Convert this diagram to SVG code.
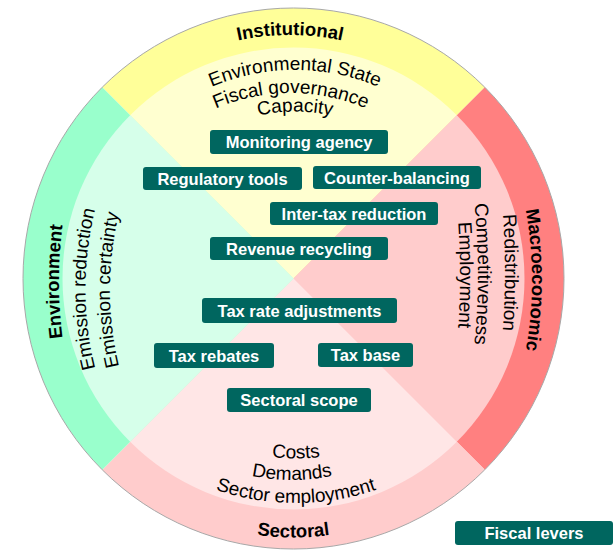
<svg xmlns="http://www.w3.org/2000/svg" width="614" height="554" viewBox="0 0 614 554">
<style>
.lab{font-family:"Liberation Sans",Arial,sans-serif;font-size:19px;fill:#000}
.band{font-family:"Liberation Sans",Arial,sans-serif;font-size:18.5px;font-weight:bold;fill:#000}
.box{fill:#00665F}
.bt{font-family:"Liberation Sans",Arial,sans-serif;font-size:16.5px;font-weight:bold;fill:#fff;text-anchor:middle}
</style>
<defs>
<path id="pInst" d="M79.13,156.75 A243.5,243.5 0 0 1 500.87,156.75"/>
<path id="pEnvS" d="M108.8,177.5 A215,215 0 0 1 481.2,177.5"/>
<path id="pFisc" d="M126.5,188 A190,190 0 0 1 455.5,188"/>
<path id="pCap" d="M147.8,196.5 A170,170 0 0 1 442.2,196.5"/>
<path id="pCosts" d="M140.1,368.5 A180,180 0 0 0 451.9,368.5"/>
<path id="pDem" d="M118.8,380 A200,200 0 0 0 465.2,380"/>
<path id="pSecE" d="M79.5,378 A250,250 0 0 0 512.5,378"/>
<path id="pSect" d="M69.2,408 A259,259 0 0 0 517.8,408"/>
<path id="pEnv" d="M119.3,506.5 A450,450 0 0 1 119.3,56.5"/>
<path id="pEmR" d="M129.7,454 A330,330 0 0 1 129.7,124"/>
<path id="pEmC" d="M154.2,455 A330,330 0 0 1 154.2,125"/>
<path id="pMac" d="M478.4,80 A400,400 0 0 1 478.4,480"/>
<path id="pRed" d="M397.8,-127.5 A800,800 0 0 1 397.8,672.5"/>
<path id="pComp" d="M384.2,-76 A700,700 0 0 1 384.2,624"/>
<path id="pEmp" d="M352.8,-125 A800,800 0 0 1 352.8,675"/>
</defs>

<g id="wheel">
<path d="M293.5,278.5 L102.23,87.23 A270.5,270.5 0 0 1 484.77,87.23 Z" fill="#FFFF99"/>
<path d="M293.5,278.5 L484.77,87.23 A270.5,270.5 0 0 1 484.77,469.77 Z" fill="#FF8080"/>
<path d="M293.5,278.5 L484.77,469.77 A270.5,270.5 0 0 1 102.23,469.77 Z" fill="#FFCCCC"/>
<path d="M293.5,278.5 L102.23,469.77 A270.5,270.5 0 0 1 102.23,87.23 Z" fill="#99FFCC"/>
<path d="M293.5,278.5 L130.16,115.16 A231,231 0 0 1 456.84,115.16 Z" fill="#FFFFD0"/>
<path d="M293.5,278.5 L456.84,115.16 A231,231 0 0 1 456.84,441.84 Z" fill="#FFCCCC"/>
<path d="M293.5,278.5 L456.84,441.84 A231,231 0 0 1 130.16,441.84 Z" fill="#FFE6E6"/>
<path d="M293.5,278.5 L130.16,441.84 A231,231 0 0 1 130.16,115.16 Z" fill="#D6FFEA"/>
<circle cx="293.5" cy="278.5" r="270.5" fill="none" stroke="#A8A8A8" stroke-width="1"/>
</g>

<g id="institutional">
<text class="band"><textPath href="#pInst" startOffset="50%" text-anchor="middle">Institutional</textPath></text>
<text class="lab"><textPath href="#pEnvS" startOffset="50%" text-anchor="middle">Environmental State</textPath></text>
<text class="lab"><textPath href="#pFisc" startOffset="50%" text-anchor="middle">Fiscal governance</textPath></text>
<text class="lab"><textPath href="#pCap" startOffset="50%" text-anchor="middle">Capacity</textPath></text>
</g>
<g id="macroeconomic">
<text class="band"><textPath href="#pMac" startOffset="50%" text-anchor="middle">Macroeconomic</textPath></text>
<text class="lab"><textPath href="#pRed" startOffset="50%" text-anchor="middle">Redistribution</textPath></text>
<text class="lab"><textPath href="#pComp" startOffset="50%" text-anchor="middle">Competitiveness</textPath></text>
<text class="lab"><textPath href="#pEmp" startOffset="50%" text-anchor="middle">Employment</textPath></text>
</g>
<g id="sectoral">
<text class="band"><textPath href="#pSect" startOffset="50%" text-anchor="middle">Sectoral</textPath></text>
<text class="lab"><textPath href="#pCosts" startOffset="50%" text-anchor="middle">Costs</textPath></text>
<text class="lab"><textPath href="#pDem" startOffset="50%" text-anchor="middle">Demands</textPath></text>
<text class="lab"><textPath href="#pSecE" startOffset="50%" text-anchor="middle">Sector employment</textPath></text>
</g>
<g id="environment">
<text class="band"><textPath href="#pEnv" startOffset="50%" text-anchor="middle">Environment</textPath></text>
<text class="lab"><textPath href="#pEmR" startOffset="50%" text-anchor="middle">Emission reduction</textPath></text>
<text class="lab"><textPath href="#pEmC" startOffset="50%" text-anchor="middle">Emission certainty</textPath></text>
</g>

<g id="connectors"></g>

<g id="monitoring-agency"><rect class="box" x="210" y="130" width="178" height="24" rx="3"/><text class="bt" x="299" y="148">Monitoring agency</text></g>
<g id="regulatory-tools"><rect class="box" x="143" y="167" width="159" height="23" rx="3"/><text class="bt" x="222.5" y="184.5">Regulatory tools</text></g>
<g id="counter-balancing"><rect class="box" x="313" y="166" width="168" height="23" rx="3"/><text class="bt" x="397" y="183.5">Counter-balancing</text></g>
<g id="inter-tax-reduction"><rect class="box" x="270" y="202" width="168" height="23" rx="3"/><text class="bt" x="354" y="219.5">Inter-tax reduction</text></g>
<g id="revenue-recycling"><rect class="box" x="210" y="237" width="178" height="23" rx="3"/><text class="bt" x="299" y="254.5">Revenue recycling</text></g>
<g id="tax-rate-adjustments"><rect class="box" x="202" y="298" width="195" height="25" rx="3"/><text class="bt" x="299.5" y="316.5">Tax rate adjustments</text></g>
<g id="tax-rebates"><rect class="box" x="154" y="343" width="120" height="25" rx="3"/><text class="bt" x="214" y="361.5">Tax rebates</text></g>
<g id="tax-base"><rect class="box" x="318" y="343" width="95" height="24" rx="3"/><text class="bt" x="365.5" y="361">Tax base</text></g>
<g id="sectoral-scope"><rect class="box" x="227" y="388" width="144" height="24" rx="3"/><text class="bt" x="299" y="406">Sectoral scope</text></g>
<g id="fiscal-levers"><rect class="box" x="455" y="521" width="158" height="24" rx="3"/><text class="bt" x="534" y="539">Fiscal levers</text></g>
</svg>
